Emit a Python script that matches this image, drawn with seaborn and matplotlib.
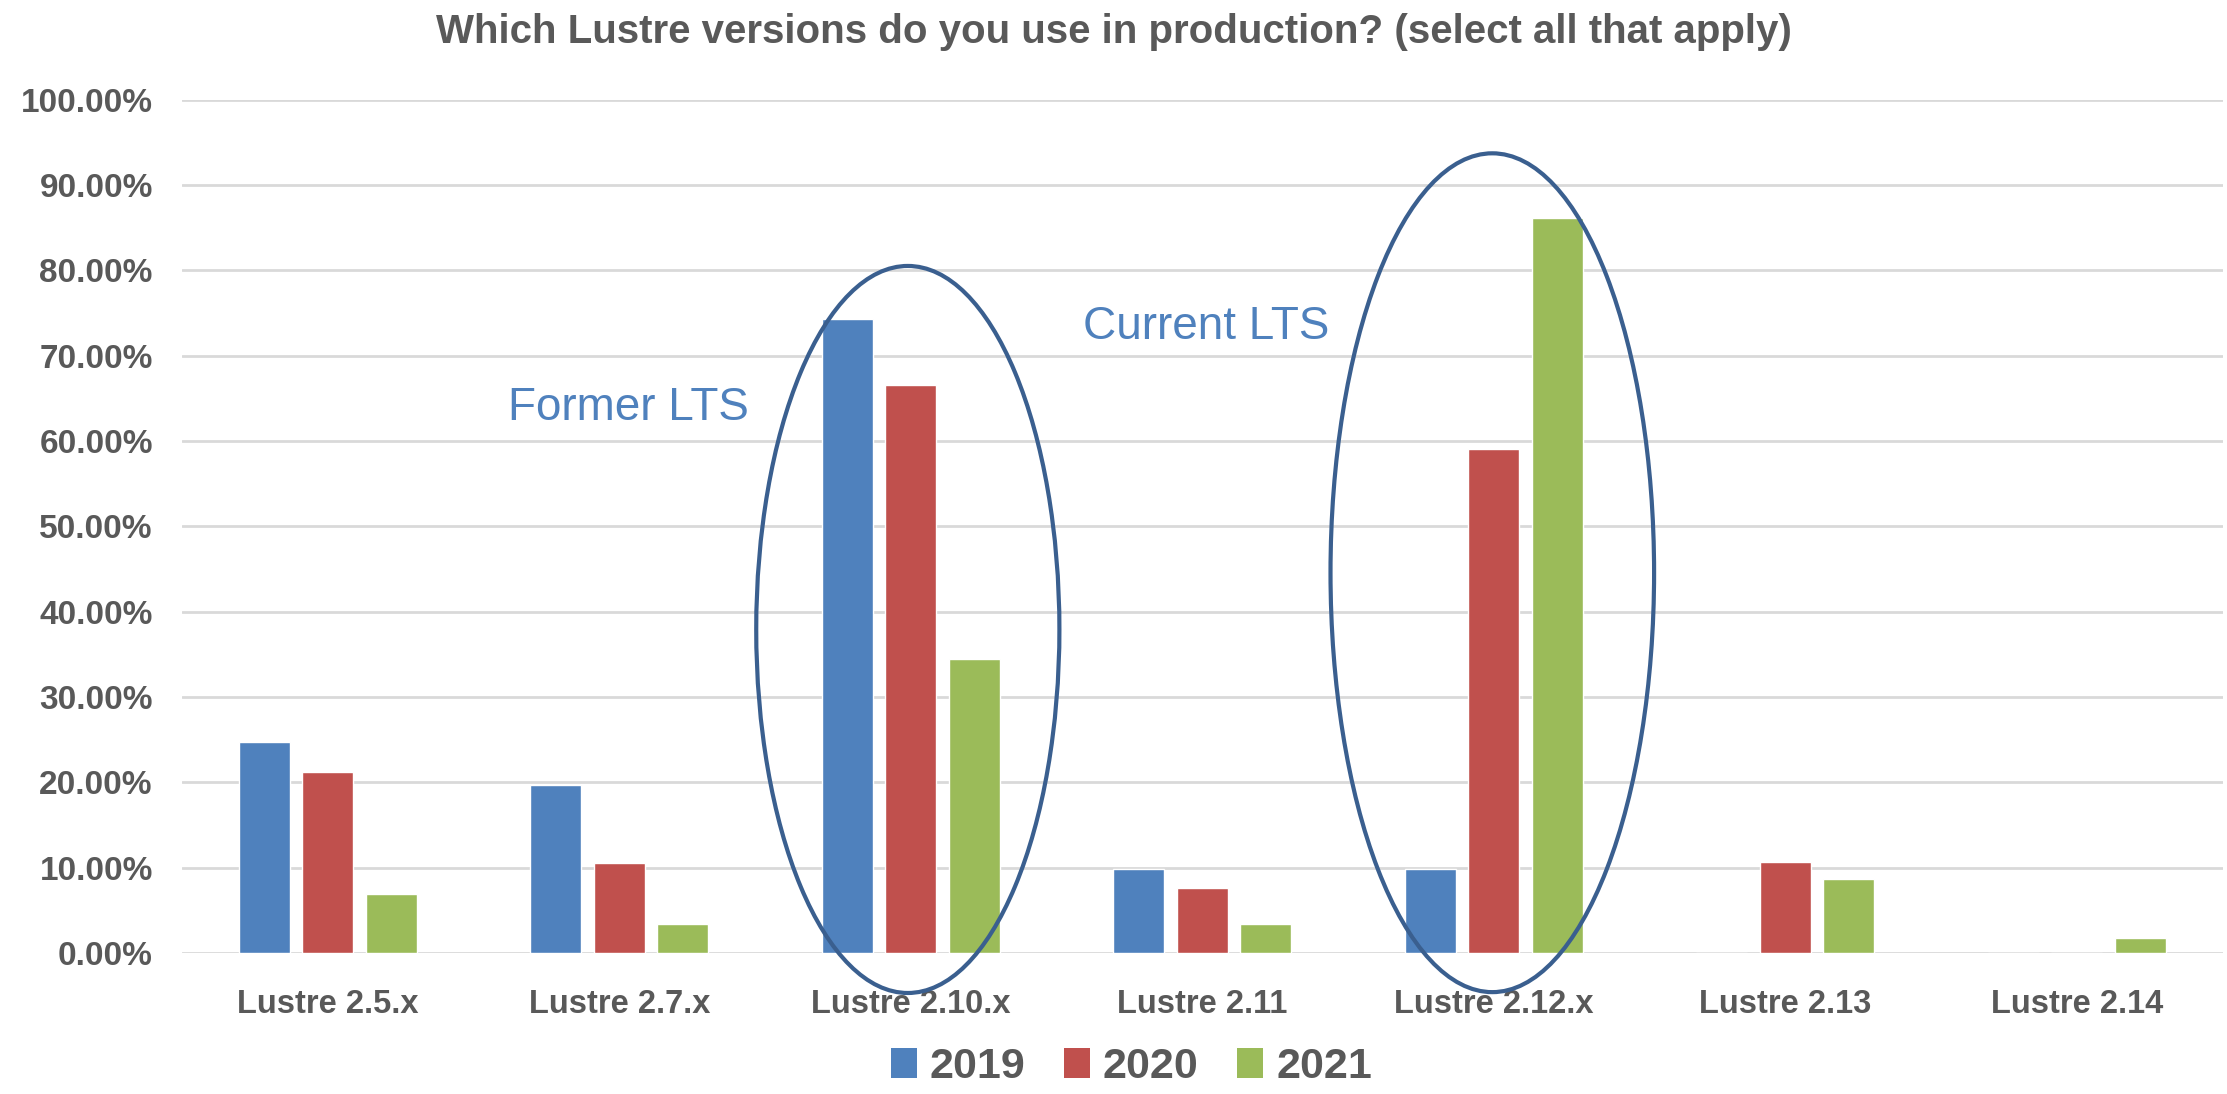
#!/usr/bin/env python3

import numpy as np
import pandas as pd

import matplotlib.pyplot as plt
import seaborn as sns
from matplotlib.patches import Ellipse, Patch
from matplotlib.ticker import FuncFormatter, MultipleLocator

versions = ["Lustre 2.5.x", "Lustre 2.7.x", "Lustre 2.10.x", "Lustre 2.11",
            "Lustre 2.12.x", "Lustre 2.13", "Lustre 2.14"]
years = ["2019", "2020", "2021"]
share_2019 = [24.67, 19.73, 74.3, 9.84, 9.84, 0.0, 0.0]
share_2020 = [21.2, 10.58, 66.6, 7.59, 59.0, 10.6, 0.0]
share_2021 = [6.89, 3.42, 34.4, 3.39, 86.1, 8.6, 1.71]
colors = ["#4F81BD", "#C0504D", "#9BBB59"]

df = pd.DataFrame({"version": versions, "2019": share_2019,
                   "2020": share_2020, "2021": share_2021})
df = df.melt(id_vars="version", var_name="year", value_name="share")

sns.set_style("white")
plt.rcParams["font.family"] = ["Liberation Sans", "DejaVu Sans"]
text_color = "#595959"

fig = plt.figure(figsize=(22.27, 10.94), dpi=100)
ax = fig.add_axes([0.0817, 0.129, 0.9163, 0.780])

sns.barplot(data=df, x="version", y="share", hue="year", hue_order=years,
            palette=colors, width=0.654, gap=0.2, ax=ax, legend=False,
            saturation=1, zorder=2)

ax.set_ylim(0, 100)
ax.set_xlim(-0.5, len(versions) - 0.5)
ax.yaxis.set_major_locator(MultipleLocator(10))
ax.yaxis.set_major_formatter(FuncFormatter(lambda v, _: f"{v:.2f}%"))
ax.grid(axis="y", color="#D9D9D9", linewidth=2, zorder=0)
ax.set_axisbelow(True)
for spine in ax.spines.values():
    spine.set_visible(False)
ax.tick_params(axis="y", length=0, labelsize=24, labelcolor=text_color, pad=21)
ax.tick_params(axis="x", length=0, labelsize=23.5, labelcolor=text_color, pad=26)
for label in ax.get_xticklabels() + ax.get_yticklabels():
    label.set_fontweight("bold")
ax.set_xlabel("")
ax.set_ylabel("")

fig.suptitle("Which Lustre versions do you use in production? (select all that apply)",
             x=0.5, y=0.988, va="top", fontsize=29, fontweight="bold",
             color=text_color)

# LTS highlights
ring = "#3A5F8F"
ax.add_patch(Ellipse((1.99, 37.9), 1.04, 85.2, fill=False, edgecolor=ring,
                     linewidth=3, clip_on=False, zorder=3))
ax.add_patch(Ellipse((3.995, 44.55), 1.11, 98.3, fill=False, edgecolor=ring,
                     linewidth=3, clip_on=False, zorder=3))
ax.text(1.03, 63.8, "Former LTS", ha="center", va="center", fontsize=33,
        color="#4F81BD")
ax.text(3.015, 73.3, "Current LTS", ha="center", va="center", fontsize=33,
        color="#4F81BD")

handles = [Patch(facecolor=c, edgecolor="none") for c in colors]
leg = fig.legend(handles, years, loc="center", bbox_to_anchor=(0.508, 0.025),
                 ncol=3, frameon=False, fontsize=31, handlelength=0.6,
                 handleheight=0.7, handletextpad=0.3, columnspacing=0.9,
                 borderpad=0)
for t in leg.get_texts():
    t.set_color(text_color)
    t.set_fontweight("bold")

fig.savefig("out.png", dpi=100)
